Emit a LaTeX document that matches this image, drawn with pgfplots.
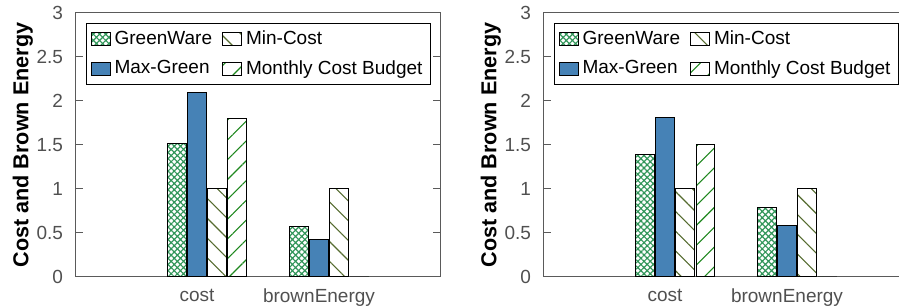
\documentclass[border=0pt]{standalone}
\usepackage{pgfplots}
\pgfplotsset{compat=1.18}
\usepackage{fontspec}
\setmainfont{Liberation Sans}
\usetikzlibrary{patterns.meta}
\definecolor{mgblue}{RGB}{70,130,182}
\definecolor{gwgreen}{RGB}{50,150,90}
\definecolor{mcolive}{RGB}{85,107,47}
\definecolor{bgreen}{RGB}{30,135,30}
\definecolor{axgray}{RGB}{90,90,90}
\definecolor{txgray}{RGB}{80,80,80}
\pgfplotsset{
  panel/.style={
    scale only axis, width=183pt, height=132pt,
    xmin=-1, xmax=2, ymin=0, ymax=3,
    xtick={0,1}, xticklabels={cost,brownEnergy},
    ytick={0,0.5,1,1.5,2,2.5,3},
    /pgf/number format/assume math mode=true,
    tick label style={font=\fontsize{9.5}{11}\selectfont, text=txgray},
    xticklabel style={yshift=-2.5pt},
    yticklabel style={xshift=-2.5pt},
    major x tick style={draw=none},
    ytick pos=both, tick align=inside,
    major tick length=4pt,
    axis line style={draw=axgray, line width=0.5pt},
    every tick/.style={axgray, line width=0.5pt},
    ylabel={\bfseries Cost and Brown Energy},
    ylabel style={font=\fontsize{10.8}{12}\selectfont\bfseries, at={(axis description cs:0,0.5)}, anchor=south, yshift=17.5pt},
    legend columns=2, transpose legend,
    legend style={at={(0,1)}, anchor=north west, xshift=5.5pt, yshift=-5pt,
      draw=black, line width=0.6pt, font=\fontsize{9.5}{11}\selectfont,
      inner xsep=2pt, inner ysep=1.5pt, row sep=2.5pt,
      /tikz/every even column/.append style={column sep=3pt}},
    legend cell align=left,
    legend image code/.code={\draw[#1, line width=0.5pt] (0pt,-3.2pt) rectangle (9.5pt,3.2pt);},
  },
  gw/.style={ybar, bar width=0.155, bar shift=-0.1676, draw=black, line width=0.5pt,
    pattern={Hatch[angle=45,distance=2.2pt,line width=0.6pt]}, pattern color=gwgreen},
  mg/.style={ybar, bar width=0.155, bar shift=-0.0012, draw=black, line width=0.5pt, fill=mgblue},
  mc/.style={ybar, bar width=0.155, bar shift=0.1652, draw=black, line width=0.5pt,
    pattern={Lines[angle=-45,distance=7pt,line width=0.55pt]}, pattern color=mcolive},
  bu/.style={ybar, bar width=0.155, bar shift=0.3316, draw=black, line width=0.5pt,
    pattern={Lines[angle=45,distance=7pt,line width=0.55pt]}, pattern color=bgreen},
}
\begin{document}
\begin{tikzpicture}
\begin{axis}[panel, at={(37.5pt,15.5pt)}, anchor=south west]
\addplot[gw] coordinates {(0,1.52) (1,0.576)};
\addplot[mg] coordinates {(0,2.10) (1,0.425)};
\addplot[mc] coordinates {(0,1.0) (1,1.0)};
\addplot[bu] coordinates {(0,1.805) (1,0)};
\legend{GreenWare,Max-Green,Min-Cost,Monthly Cost Budget}
\end{axis}
\begin{axis}[panel, at={(271.5pt,15.5pt)}, anchor=south west]
\addplot[gw] coordinates {(0,1.396) (1,0.793)};
\addplot[mg] coordinates {(0,1.817) (1,0.58)};
\addplot[mc] coordinates {(0,1.0) (1,1.0)};
\addplot[bu] coordinates {(0,1.502) (1,0)};
\legend{GreenWare,Max-Green,Min-Cost,Monthly Cost Budget}
\end{axis}
\pgfresetboundingbox
\useasboundingbox (0pt,0pt) rectangle (449.5pt,154pt);
\end{tikzpicture}
\end{document}
